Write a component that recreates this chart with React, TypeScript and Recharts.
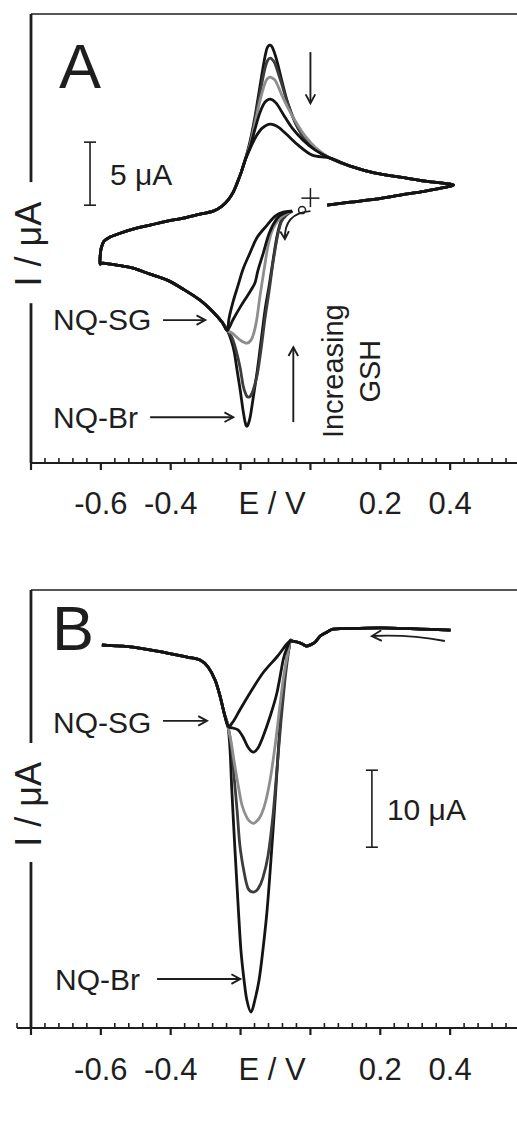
import React from 'react';
import { LineChart, Line, XAxis, YAxis, ReferenceLine } from 'recharts';

type P = [number, number]; // [E / V, I / µA]

const FONT = '"Liberation Sans", Arial, Helvetica, sans-serif';
const INK = '#1e1e1e';

// ---------- x axis ----------
const TICKS_A = [
  -0.8, -0.76, -0.72, -0.68, -0.64, -0.6, -0.56, -0.52, -0.48, -0.44, -0.4, -0.36, -0.32, -0.28, -0.24,
  -0.2, -0.16, -0.12, -0.11, -0.08, -0.04, 0, 0.04, 0.08, 0.12, 0.16, 0.2, 0.24, 0.28, 0.32, 0.36, 0.4,
  0.44, 0.48, 0.52, 0.56, 0.6,
];
const TICKS_B = [-0.84, ...TICKS_A];
// keys are value*100; -0.11 only carries the axis title
const TICK_LABELS: Record<string, string> = { '-60': '-0.6', '-40': '-0.4', '20': '0.2', '40': '0.4', '-11': 'E / V' };

// ---------- panel A : cyclic voltammograms ----------
const A_YDOM: [number, number] = [-21, 14.6];
const A_YAXIS_GAP = [1.27, -8.33];
const A_START: P[] = [[-0.052, -1.03]];
const A_JUNCTION: P[] = [[-0.238, -10.47]];
const A_LEFT_LOWER: P[] = [
  [-0.253, -9.83], [-0.278, -9.04], [-0.316, -8.09], [-0.364, -7.22], [-0.41, -6.5], [-0.459, -6.03],
  [-0.508, -5.55], [-0.554, -5.31], [-0.594, -5.15], [-0.602, -5.2],
];
const A_UPPER_LEFT: P[] = [
  [-0.602, -4.6], [-0.599, -3.97], [-0.591, -3.41], [-0.574, -3.09], [-0.545, -2.78], [-0.508, -2.46],
  [-0.459, -2.14], [-0.41, -1.82], [-0.364, -1.59], [-0.316, -1.27], [-0.278, -1.03], [-0.253, -0.63],
  [-0.236, -0.16], [-0.221, 0.48], [-0.21, 1.19], [-0.198, 2.06], [-0.187, 3.01],
];
const A_UPPER_TAIL: P[] = [[0.057, 3.17], [0.114, 2.54], [0.186, 1.98], [0.257, 1.67], [0.329, 1.35], [0.401, 1.11]];
const A_RETURN: P[] = [[0.401, 0.95], [0.329, 0.56], [0.257, 0.24], [0.186, -0.08], [0.114, -0.32], [0.048, -0.56]];

const A_RED_1: P[] = [
  [-0.069, -1.27], [-0.084, -1.82], [-0.095, -2.93], [-0.107, -4.92], [-0.118, -6.9], [-0.13, -8.88],
  [-0.141, -11.26], [-0.152, -13.64], [-0.164, -15.86], [-0.172, -17.29], [-0.178, -17.92], [-0.183, -18.08],
  [-0.187, -17.76], [-0.193, -16.81], [-0.201, -15.23], [-0.21, -13.64], [-0.218, -12.21], [-0.227, -11.26],
];
const A_RED_2: P[] = [
  [-0.069, -1.35], [-0.084, -1.9], [-0.095, -3.09], [-0.107, -5.08], [-0.118, -7.3], [-0.13, -9.52],
  [-0.141, -11.9], [-0.152, -13.96], [-0.164, -15.23], [-0.172, -15.7], [-0.178, -15.78], [-0.184, -15.62],
  [-0.193, -14.83], [-0.201, -13.48], [-0.213, -12.05], [-0.224, -11.1],
];
const A_RED_3: P[] = [
  [-0.066, -1.19], [-0.087, -1.59], [-0.107, -2.38], [-0.121, -3.73], [-0.132, -5.55], [-0.144, -7.69],
  [-0.155, -9.83], [-0.167, -11.1], [-0.181, -11.5], [-0.201, -11.26], [-0.224, -10.71],
];
const A_RED_4: P[] = [
  [-0.075, -1.19], [-0.095, -1.59], [-0.118, -2.78], [-0.135, -4.36], [-0.15, -5.71], [-0.158, -6.66],
  [-0.167, -7.14], [-0.181, -7.77], [-0.201, -8.64], [-0.221, -9.6],
];
const A_RED_5: P[] = [
  [-0.078, -1.11], [-0.101, -1.43], [-0.124, -2.14], [-0.152, -3.09], [-0.172, -4.28], [-0.193, -5.63],
  [-0.207, -6.9], [-0.221, -8.17], [-0.233, -9.52],
];

const A_OX_1: P[] = [
  [-0.172, 4.6], [-0.158, 6.58], [-0.144, 8.96], [-0.132, 10.94], [-0.124, 11.9], [-0.115, 12.13],
  [-0.107, 11.82], [-0.095, 10.79], [-0.081, 9.2], [-0.064, 7.45], [-0.044, 6.03], [-0.021, 4.92], [0.014, 3.89],
];
const A_OX_2: P[] = [
  [-0.172, 4.44], [-0.158, 6.34], [-0.144, 8.41], [-0.13, 10.31], [-0.122, 10.95], [-0.115, 11.1],
  [-0.108, 10.95], [-0.101, 10.63], [-0.084, 9.2], [-0.064, 7.45], [-0.044, 6.03], [-0.021, 4.92], [0.014, 3.89],
];
const A_OX_3: P[] = [
  [-0.172, 4.28], [-0.158, 6.03], [-0.144, 7.77], [-0.13, 9.12], [-0.122, 9.5], [-0.115, 9.6],
  [-0.107, 9.48], [-0.098, 9.2], [-0.078, 7.93], [-0.058, 6.82], [-0.038, 5.87], [-0.015, 4.92], [0.014, 4.04],
];
const A_OX_4: P[] = [
  [-0.172, 4.12], [-0.158, 5.55], [-0.144, 6.82], [-0.13, 7.61], [-0.115, 7.85], [-0.098, 7.53],
  [-0.078, 6.66], [-0.052, 5.55], [-0.021, 4.6], [0.014, 3.81],
];
const A_OX_5: P[] = [
  [-0.172, 3.97], [-0.155, 4.92], [-0.138, 5.55], [-0.115, 5.87], [-0.092, 5.63], [-0.066, 5.0],
  [-0.035, 4.2], [0.005, 3.41],
];

// ---------- panel B : linear sweep (0.4 -> -0.6 V) ----------
const B_YDOM: [number, number] = [-52, 5];
const B_YAXIS_GAP = [-14.91, -30.4];
const B_RIGHT: P[] = [
  [0.401, -0.21], [0.315, -0.08], [0.229, 0.05], [0.163, 0.05], [0.1, -0.02], [0.065, -0.08], [0.048, -0.47],
  [0.028, -0.99], [0.014, -1.77], [-0.001, -2.16], [-0.012, -2.29], [-0.023, -2.03], [-0.038, -1.77],
  [-0.052, -1.64], [-0.058, -1.64],
];
const B_JUNCTION: P[] = [[-0.236, -12.7]];
const B_LEFT: P[] = [
  [-0.247, -11.01], [-0.258, -8.93], [-0.273, -6.72], [-0.293, -5.02], [-0.316, -4.11], [-0.353, -3.72],
  [-0.41, -3.2], [-0.508, -2.42], [-0.597, -2.16],
];
const B_1: P[] = [
  [-0.061, -2.55], [-0.067, -3.85], [-0.079, -8.02], [-0.09, -14.52], [-0.101, -22.33], [-0.113, -30.14],
  [-0.124, -36.65], [-0.136, -41.85], [-0.147, -45.76], [-0.159, -48.36], [-0.17, -49.92], [-0.182, -48.36],
  [-0.19, -45.76], [-0.199, -41.85], [-0.207, -35.99], [-0.216, -28.83], [-0.225, -21.03], [-0.23, -15.83],
];
const B_2: P[] = [
  [-0.064, -3.46], [-0.073, -6.72], [-0.084, -11.92], [-0.096, -18.42], [-0.107, -24.27], [-0.121, -29.48],
  [-0.136, -32.47], [-0.15, -33.9], [-0.164, -34.31], [-0.179, -33.79], [-0.19, -31.71], [-0.202, -28.19],
  [-0.21, -23.64], [-0.219, -19.08], [-0.227, -15.18],
];
const B_3: P[] = [
  [-0.064, -3.07], [-0.076, -6.06], [-0.087, -9.96], [-0.099, -14.52], [-0.113, -19.08], [-0.127, -22.33],
  [-0.141, -24.27], [-0.156, -25.2], [-0.167, -25.33], [-0.181, -24.68], [-0.196, -22.98], [-0.207, -20.38],
  [-0.219, -17.13], [-0.227, -14.78], [-0.233, -13.48],
];
const B_4: P[] = [
  [-0.067, -2.55], [-0.078, -4.11], [-0.096, -8.41], [-0.116, -11.53], [-0.136, -14.13], [-0.15, -15.56],
  [-0.164, -16.09], [-0.179, -15.43], [-0.193, -14.13], [-0.207, -13.22], [-0.222, -12.96],
];
const B_5: P[] = [[-0.07, -2.16], [-0.096, -3.72], [-0.136, -5.8], [-0.173, -8.41], [-0.202, -10.62], [-0.222, -12.18]];

const CURVE_COLORS = ['#141414', '#3c3c3c', '#8e8e8e', '#141414', '#141414'];

const join = (...parts: P[][]) => parts.flat().map(([e, i]) => ({ e, i }));

const A_CURVES = [
  [A_RED_1, A_OX_1], [A_RED_2, A_OX_2], [A_RED_3, A_OX_3], [A_RED_4, A_OX_4], [A_RED_5, A_OX_5],
].map(([red, ox]) =>
  join(A_START, red, A_JUNCTION, A_LEFT_LOWER, A_UPPER_LEFT, ox, A_UPPER_TAIL, A_RETURN),
);
const B_CURVES = [B_1, B_2, B_3, B_4, B_5].map((mid) => join(B_RIGHT, mid, B_JUNCTION, B_LEFT));

// uniform Catmull-Rom curve (works for loops where E goes back and forth)
function catmullRom(context: any) {
  let pts: number[][] = [];
  return {
    areaStart() {},
    areaEnd() {},
    lineStart() {
      pts = [];
    },
    point(x: number, y: number) {
      pts.push([+x, +y]);
    },
    lineEnd() {
      const n = pts.length;
      if (!n) return;
      context.moveTo(pts[0][0], pts[0][1]);
      for (let k = 0; k < n - 1; k++) {
        const p0 = pts[k - 1] || pts[k];
        const p1 = pts[k];
        const p2 = pts[k + 1];
        const p3 = pts[k + 2] || p2;
        context.bezierCurveTo(
          p1[0] + (p2[0] - p0[0]) / 6,
          p1[1] + (p2[1] - p0[1]) / 6,
          p2[0] - (p3[0] - p1[0]) / 6,
          p2[1] - (p3[1] - p1[1]) / 6,
          p2[0],
          p2[1],
        );
      }
    },
  };
}

// ---------- geometry shared by chart and annotation layer ----------
const W = 520;
const A_BOX = { top: 14, left: 31, h: 560, axisH: 97, x0: -0.8, x1: 0.6 };
const B_BOX = { top: 30, left: 17, h: 575, axisH: 107, x0: -0.84, x1: 0.6 };

const makeScale = (box: typeof A_BOX, ydom: [number, number]) => {
  const pw = W - box.left;
  const ph = box.h - box.top - box.axisH;
  return {
    x: (e: number) => box.left + ((e - box.x0) / (box.x1 - box.x0)) * pw,
    y: (i: number) => box.top + ((ydom[1] - i) / (ydom[1] - ydom[0])) * ph,
  };
};
const SA = makeScale(A_BOX, A_YDOM);
const SB = makeScale(B_BOX, B_YDOM);

function AxisTick({ x, y, payload, dy }: any) {
  const k = Math.round(payload.value * 100);
  const label = TICK_LABELS[String(k)];
  const onGrid = k % 4 === 0;
  const major = k % 20 === 0;
  return (
    <g>
      {onGrid &&
        (major ? (
          <line x1={x} x2={x} y1={y} y2={y + 7} stroke={INK} strokeWidth={2.2} />
        ) : (
          <line x1={x} x2={x} y1={y} y2={y - 5} stroke={INK} strokeWidth={1.6} />
        ))}
      {label && (
        <text x={x} y={y + dy} textAnchor="middle" fontSize={31} fill={INK} fontFamily={FONT}>
          {label}
        </text>
      )}
    </g>
  );
}

function Arrow({ x1, y1, x2, y2, head = 10 }: { x1: number; y1: number; x2: number; y2: number; head?: number }) {
  const a = Math.atan2(y2 - y1, x2 - x1);
  const h1 = `${x2 - head * Math.cos(a - 0.5)},${y2 - head * Math.sin(a - 0.5)}`;
  const h2 = `${x2 - head * Math.cos(a + 0.5)},${y2 - head * Math.sin(a + 0.5)}`;
  return (
    <g stroke={INK} strokeWidth={1.9} fill="none">
      <line x1={x1} y1={y1} x2={x2} y2={y2} />
      <polyline points={`${h1} ${x2},${y2} ${h2}`} />
    </g>
  );
}

function CurvedArrow({ p0, c, p1, head = 9 }: { p0: number[]; c: number[]; p1: number[]; head?: number }) {
  const a = Math.atan2(p1[1] - c[1], p1[0] - c[0]);
  const h1 = `${p1[0] - head * Math.cos(a - 0.5)},${p1[1] - head * Math.sin(a - 0.5)}`;
  const h2 = `${p1[0] - head * Math.cos(a + 0.5)},${p1[1] - head * Math.sin(a + 0.5)}`;
  return (
    <g stroke={INK} strokeWidth={1.9} fill="none">
      <path d={`M${p0[0]},${p0[1]} Q${c[0]},${c[1]} ${p1[0]},${p1[1]}`} />
      <polyline points={`${h1} ${p1[0]},${p1[1]} ${h2}`} />
    </g>
  );
}

function ScaleBar({ x, y1, y2 }: { x: number; y1: number; y2: number }) {
  return (
    <g stroke={INK} strokeWidth={1.6}>
      <line x1={x} x2={x} y1={y1} y2={y2} />
      <line x1={x - 6} x2={x + 6} y1={y1} y2={y1} />
      <line x1={x - 6} x2={x + 6} y1={y2} y2={y2} />
    </g>
  );
}

const Txt = ({ x, y, size = 30, rotate = false, anchor = 'start', children }: any) => (
  <text
    x={0}
    y={0}
    transform={`translate(${x},${y})${rotate ? ' rotate(-90)' : ''}`}
    textAnchor={anchor}
    fontSize={size}
    fill={INK}
    fontFamily={FONT}
  >
    {children}
  </text>
);

function Panel({ box, ydom, ticks, curves, gap, labelDy, children }: any) {
  return (
    <div style={{ position: 'relative', width: W, height: box.h }}>
      <LineChart width={W} height={box.h} margin={{ top: box.top, right: 0, bottom: 0, left: box.left }}>
        <XAxis
          type="number"
          dataKey="e"
          domain={[box.x0, box.x1]}
          ticks={ticks}
          interval={0}
          allowDataOverflow
          height={box.axisH}
          tickLine={false}
          tickSize={0}
          tickMargin={0}
          axisLine={{ stroke: INK, strokeWidth: 2.2 }}
          tick={(p: any) => <AxisTick {...p} dy={labelDy} />}
        />
        <YAxis hide width={0} type="number" domain={ydom} allowDataOverflow />
        <ReferenceLine segment={[{ x: -0.8, y: ydom[1] }, { x: 0.6, y: ydom[1] }]} stroke={INK} strokeWidth={1.6} />
        <ReferenceLine segment={[{ x: -0.8, y: ydom[1] }, { x: -0.8, y: gap[0] }]} stroke={INK} strokeWidth={2.8} />
        <ReferenceLine segment={[{ x: -0.8, y: gap[1] }, { x: -0.8, y: ydom[0] }]} stroke={INK} strokeWidth={2.8} />
        {curves.map((d: any, k: number) => (
          <Line
            key={k}
            data={d}
            dataKey="i"
            type={catmullRom as any}
            stroke={CURVE_COLORS[k]}
            strokeWidth={2.8}
            strokeLinejoin="round"
            dot={false}
            activeDot={false}
            isAnimationActive={false}
          />
        ))}
      </LineChart>
      <svg width={W} height={box.h} style={{ position: 'absolute', left: 0, top: 0, pointerEvents: 'none' }}>
        {children}
      </svg>
    </div>
  );
}

export default function App() {
  const a = SA;
  const b = SB;
  return (
    <div style={{ position: 'absolute', left: 0, top: 0, width: 517, height: 1135, overflow: 'hidden', background: '#fff' }}>
      <Panel box={A_BOX} ydom={A_YDOM} ticks={TICKS_A} curves={A_CURVES} gap={A_YAXIS_GAP} labelDy={51}>
        <Txt x={a.x(-0.72)} y={a.y(8.72)} size={63}>A</Txt>
        <Txt x={41} y={a.y(-3.65)} size={36} rotate anchor="middle">I / μA</Txt>
        <ScaleBar x={a.x(-0.631)} y1={a.y(4.44)} y2={a.y(-0.56)} />
        <Txt x={a.x(-0.574)} y={a.y(1.03)}>5 μA</Txt>
        <Arrow x1={a.x(0)} y1={a.y(11.58)} x2={a.x(0)} y2={a.y(7.53)} />
        <Arrow x1={a.x(-0.049)} y1={a.y(-17.76)} x2={a.x(-0.049)} y2={a.y(-11.82)} />
        <Txt x={a.x(-0.737)} y={a.y(-10.47)}>NQ-SG</Txt>
        <Arrow x1={a.x(-0.422)} y1={a.y(-9.67)} x2={a.x(-0.301)} y2={a.y(-9.67)} />
        <Txt x={a.x(-0.737)} y={a.y(-18.24)}>NQ-Br</Txt>
        <Arrow x1={a.x(-0.459)} y1={a.y(-17.37)} x2={a.x(-0.221)} y2={a.y(-17.37)} />
        <Txt x={a.x(0.094)} y={a.y(-13.72)} size={29} rotate anchor="middle">Increasing</Txt>
        <Txt x={a.x(0.2)} y={a.y(-13.72)} size={29} rotate anchor="middle">GSH</Txt>
        <g stroke={INK} strokeWidth={1.5} fill="none">
          <line x1={a.x(0) - 9} x2={a.x(0) + 9} y1={a.y(0)} y2={a.y(0)} />
          <line x1={a.x(0)} x2={a.x(0)} y1={a.y(0) - 10} y2={a.y(0) + 9} />
          <circle cx={a.x(-0.024)} cy={a.y(-0.95)} r={3.5} />
        </g>
        <CurvedArrow
          p0={[a.x(0), a.y(-1.03)]}
          c={[a.x(-0.076), a.y(-1.19)]}
          p1={[a.x(-0.073), a.y(-3.25)]}
        />
      </Panel>
      <Panel box={B_BOX} ydom={B_YDOM} ticks={TICKS_B} curves={B_CURVES} gap={B_YAXIS_GAP} labelDy={52}>
        <Txt x={b.x(-0.74)} y={b.y(-2.81)} size={63}>B</Txt>
        <Txt x={41} y={b.y(-22.9)} size={36} rotate anchor="middle">I / μA</Txt>
        <ScaleBar x={b.x(0.176)} y1={b.y(-18.45)} y2={b.y(-28.47)} />
        <Txt x={b.x(0.219)} y={b.y(-24.9)}>10 μA</Txt>
        <Txt x={b.x(-0.737)} y={b.y(-13.59)}>NQ-SG</Txt>
        <Arrow x1={b.x(-0.422)} y1={b.y(-12.03)} x2={b.x(-0.296)} y2={b.y(-12.03)} />
        <Txt x={b.x(-0.731)} y={b.y(-47.06)}>NQ-Br</Txt>
        <Arrow x1={b.x(-0.439)} y1={b.y(-45.63)} x2={b.x(-0.201)} y2={b.y(-45.63)} />
        <CurvedArrow
          p0={[b.x(0.385), b.y(-1.64)]}
          c={[b.x(0.28), b.y(-0.75)]}
          p1={[b.x(0.176), b.y(-0.99)]}
          head={11}
        />
      </Panel>
    </div>
  );
}
